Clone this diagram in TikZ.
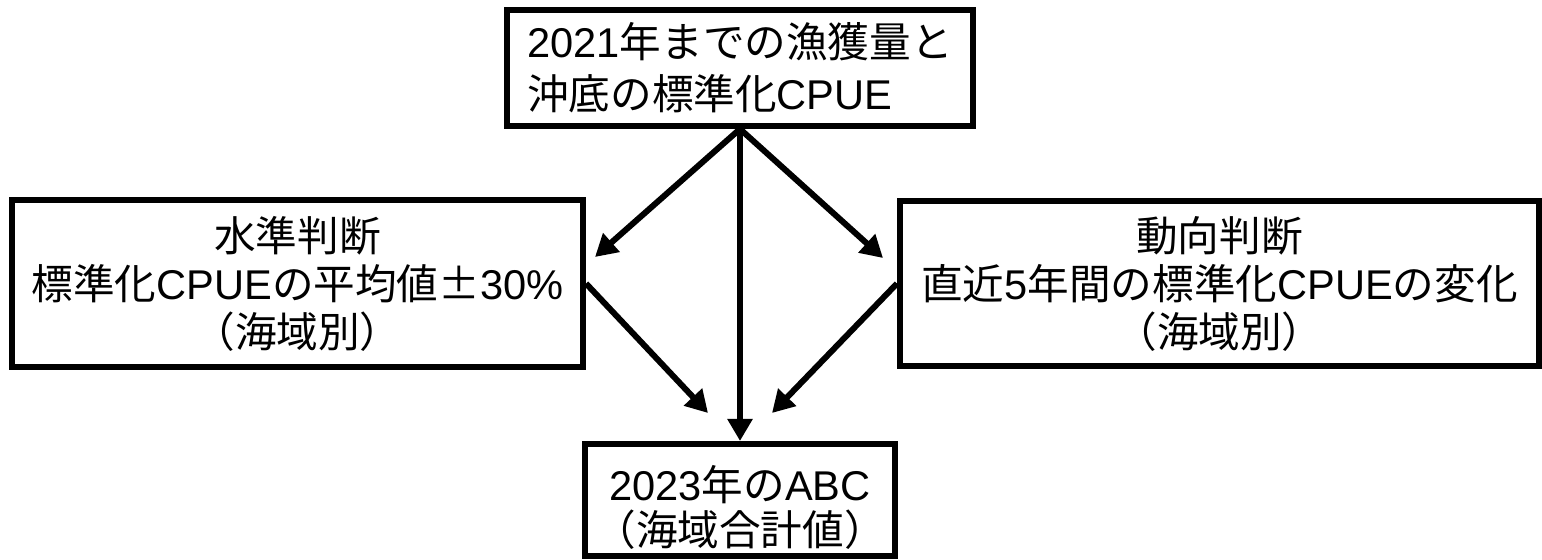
\documentclass[tikz,border=0pt]{standalone}
\usepackage{fontspec}
\setmainfont{Liberation Sans}
\newfontfamily\jp{Noto Sans CJK JP}
\usetikzlibrary{arrows.meta}
\begin{document}
\begin{tikzpicture}[x=0.5pt,y=-0.5pt,
  box/.style={draw,line width=3pt,inner sep=0pt,align=center,fill=white,
    font=\fontsize{20.8pt}{24pt}\selectfont},
  arr/.style={line width=3pt,-{Triangle[length=11pt,width=12pt]}}]
\useasboundingbox (0,0) rectangle (1542,560);
\node[box,minimum width=233pt,minimum height=58pt,align=left,
  font=\fontsize{20.8pt}{26pt}\selectfont] (top) at (740,68)
  {2021{\jp 年までの漁獲量と}\\{\jp 沖底の標準化}CPUE};
\node[box,minimum width=285.5pt,minimum height=83.5pt] (left) at (297.5,283.5)
  {{\jp 水準判断}\\{\jp 標準化}CPUE{\jp の平均値±}30\%\\{\jp （海域別）}};
\node[box,minimum width=319.5pt,minimum height=82.5pt] (right) at (1219.5,283.5)
  {{\jp 動向判断}\\{\jp 直近}5{\jp 年間の標準化}CPUE{\jp の変化}\\{\jp （海域別）}};
\node[box,minimum width=155pt,minimum height=56pt,
  font=\fontsize{20.8pt}{22.5pt}\selectfont] (bot) at (740,500)
  {\rule{0pt}{25pt}2023{\jp 年の}ABC\\{\jp （海域合計値）}};
\coordinate (lt) at (595,257);
\coordinate (rt) at (883,258);
\coordinate (bl) at (708,413);
\coordinate (br) at (772,413);
\draw[arr] (top.south) -- (lt);
\draw[arr] (top.south) -- (rt);
\draw[arr] (top.south) -- (bot.north);
\draw[arr] (left.east) -- (bl);
\draw[arr] (right.west) -- (br);
\end{tikzpicture}
\end{document}
